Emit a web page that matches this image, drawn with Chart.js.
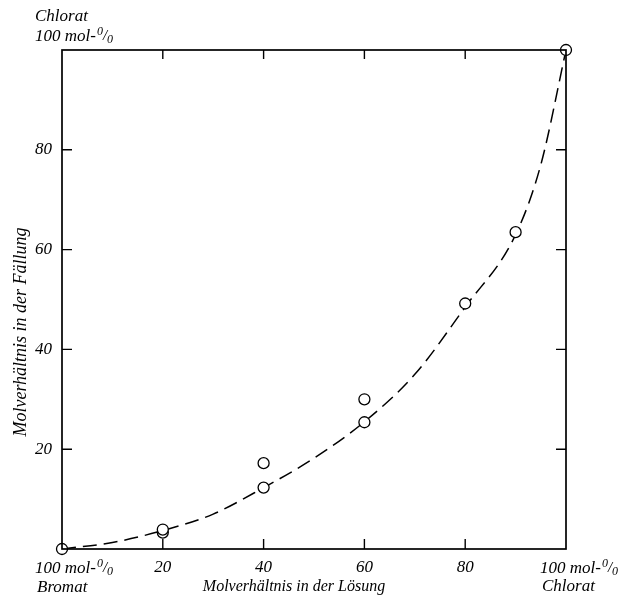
<!DOCTYPE html>
<html>
<head>
<meta charset="utf-8">
<script src="https://cdn.jsdelivr.net/npm/chart.js@4"></script>
<style>
html,body{margin:0;padding:0;background:#fff;}
#wrap{width:631px;height:595px;}
</style>
</head>
<body>
<div id="wrap"><canvas id="c" width="631" height="595"></canvas></div>
<script>
// measured points
const pointX = [0, 20, 20, 40, 40, 60, 60, 80, 90, 100];
const pointY = [0, 3.3, 3.9, 17.2, 12.3, 30, 25.4, 49.2, 63.5, 100];
// dashed curve
const curveX = [0, 10, 20, 30, 40, 50, 60, 70, 80, 90, 95, 100];
const curveY = [0, 1.3, 3.7, 7.0, 12.3, 18.2, 25.5, 35, 48.5, 63, 77, 100];
// tick values
const tickValues = [20, 40, 60, 80];
const xTitle = "Molverhältnis in der Lösung";
const yTitle = "Molverhältnis in der Fällung";

const FONT = "'Liberation Serif', 'Times New Roman', serif";

function molLabel(ctx, x, y) {
  ctx.font = "italic 17px " + FONT;
  ctx.textAlign = 'left';
  const base = "100 mol-";
  ctx.fillText(base, x, y);
  let w = ctx.measureText(base).width + 1;
  ctx.font = "italic 12px " + FONT;
  ctx.fillText("0", x + w, y - 6);
  w += ctx.measureText("0").width;
  ctx.font = "italic 15px " + FONT;
  ctx.fillText("/", x + w, y - 1);
  w += ctx.measureText("/").width;
  ctx.font = "italic 12px " + FONT;
  ctx.fillText("0", x + w, y + 2);
}

const framePlugin = {
  id: 'frame',
  afterDraw(chart) {
    const ctx = chart.ctx;
    const a = chart.chartArea;
    const xs = chart.scales.x, ys = chart.scales.y;
    ctx.save();
    ctx.strokeStyle = '#000';
    ctx.lineWidth = 1.7;
    ctx.strokeRect(a.left, a.top, a.right - a.left, a.bottom - a.top);
    ctx.lineWidth = 1.4;
    tickValues.forEach(v => {
      const px = xs.getPixelForValue(v);
      const py = ys.getPixelForValue(v);
      ctx.beginPath();
      ctx.moveTo(px, a.bottom); ctx.lineTo(px, a.bottom - 10);
      ctx.moveTo(px, a.top); ctx.lineTo(px, a.top + 9);
      ctx.moveTo(a.left, py); ctx.lineTo(a.left + 10, py);
      ctx.moveTo(a.right, py); ctx.lineTo(a.right - 10, py);
      ctx.stroke();
    });
    ctx.fillStyle = '#000';
    ctx.textBaseline = 'alphabetic';
    const x0 = xs.getPixelForValue(0), x100 = xs.getPixelForValue(100);
    const y100 = ys.getPixelForValue(100), y0 = ys.getPixelForValue(0);
    ctx.font = "italic 17px " + FONT;
    ctx.textAlign = 'left';
    ctx.fillText('Chlorat', x0 - 27, y100 - 29);
    molLabel(ctx, x0 - 27, y100 - 9);
    molLabel(ctx, x0 - 27, y0 + 24);
    ctx.font = "italic 17px " + FONT;
    ctx.textAlign = 'left';
    ctx.fillText('Bromat', x0 - 25, y0 + 43);
    molLabel(ctx, x100 - 26, y0 + 24);
    ctx.font = "italic 17px " + FONT;
    ctx.textAlign = 'left';
    ctx.fillText('Chlorat', x100 - 24, y0 + 42);
    ctx.font = "italic 16px " + FONT;
    ctx.textAlign = 'center';
    ctx.fillText(xTitle, 294, y0 + 42);
    ctx.save();
    ctx.translate(26, 332);
    ctx.rotate(-Math.PI / 2);
    ctx.font = "italic 18px " + FONT;
    ctx.fillText(yTitle, 0, 0);
    ctx.restore();
    ctx.restore();
  }
};

new Chart(document.getElementById('c'), {
  type: 'scatter',
  data: {
    datasets: [
      {
        type: 'line',
        data: curveX.map((x, i) => ({x: x, y: curveY[i]})),
        borderColor: '#000',
        borderWidth: 1.5,
        borderDash: [14, 7],
        pointRadius: 0,
        fill: false,
        clip: false,
        cubicInterpolationMode: 'monotone',
        order: 2
      },
      {
        data: pointX.map((x, i) => ({x: x, y: pointY[i]})),
        pointRadius: 5.5,
        pointBorderWidth: 1.3,
        pointBorderColor: '#000',
        pointBackgroundColor: '#fff',
        clip: false,
        order: 1
      }
    ]
  },
  options: {
    responsive: false,
    animation: false,
    events: [],
    layout: { padding: { left: 0, right: 65, top: 50, bottom: 0 } },
    plugins: { legend: { display: false }, tooltip: { enabled: false } },
    scales: {
      x: {
        type: 'linear', min: 0, max: 100,
        grid: { display: false, drawTicks: false },
        border: { display: false },
        afterFit: s => { s.height = 46; },
        ticks: {
          stepSize: 20, padding: 8, color: '#000',
          font: { family: FONT, size: 17, style: 'italic' },
          callback: v => (v > 0 && v < 100) ? String(v) : ''
        }
      },
      y: {
        type: 'linear', min: 0, max: 100,
        grid: { display: false, drawTicks: false },
        border: { display: false },
        afterFit: s => { s.width = 62; },
        ticks: {
          stepSize: 20, padding: 10, color: '#000',
          font: { family: FONT, size: 17, style: 'italic' },
          callback: v => (v > 0 && v < 100) ? String(v) : ''
        }
      }
    }
  },
  plugins: [framePlugin]
});
</script>
</body>
</html>
